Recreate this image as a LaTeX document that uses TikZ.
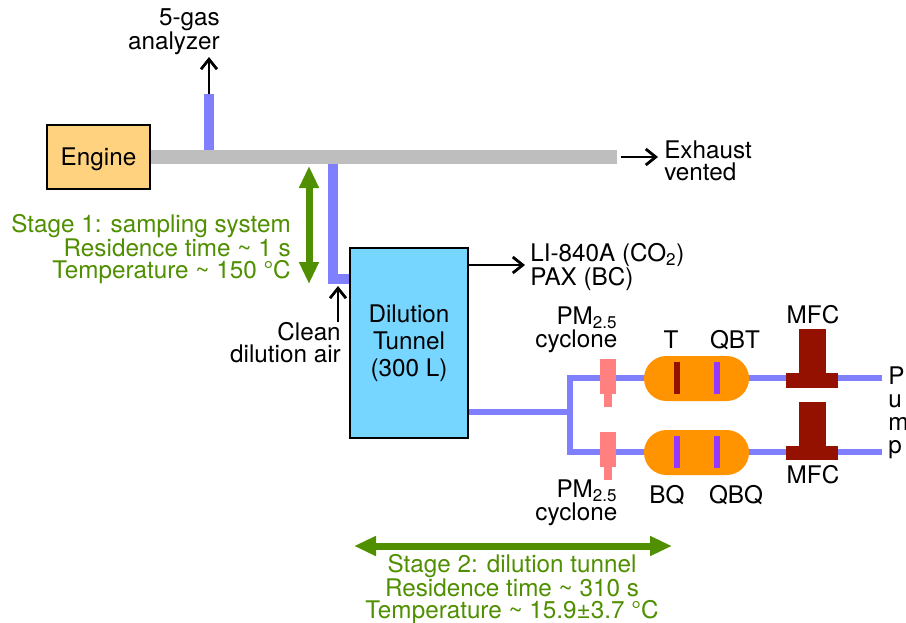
\documentclass[tikz,border=0pt]{standalone}
\usepackage{fontspec}
\setmainfont{TeX Gyre Heros}
\usepackage{xcolor}
\usetikzlibrary{arrows.meta,positioning}
\definecolor{pipeblue}{HTML}{8080FF}
\definecolor{ductgray}{HTML}{BEBEBE}
\definecolor{stagegreen}{HTML}{4F8F00}
\definecolor{enginefill}{HTML}{FFD27F}
\definecolor{tunnelfill}{HTML}{76D6FF}
\definecolor{cycfill}{HTML}{FF8080}
\definecolor{filtfill}{HTML}{FF9300}
\definecolor{darkred}{HTML}{941100}
\definecolor{filtpurple}{HTML}{9437FF}
\begin{document}
\begin{tikzpicture}[
  x=0.75pt, y=-0.75pt,
  lbl/.style={font=\fontsize{18.2}{16.5}\selectfont, inner sep=0pt},
  lblr/.style={lbl, align=right, anchor=east},
  lbll/.style={lbl, align=left, anchor=west},
  stage/.style={lbl, text=stagegreen},
  box/.style={draw=black, line width=1pt, align=center, inner sep=0pt,
              font=\fontsize{18.2}{20.25}\selectfont},
  duct/.style={draw=ductgray, line width=10.5pt},
  pipe/.style={draw=pipeblue, line width=7.5pt},
  line/.style={draw=pipeblue, line width=4.5pt},
  arr/.style={-{Straight Barb[length=7.5pt,width=12pt]}, line width=2.1pt},
  stagearr/.style={{Triangle[length=16.5pt,width=14pt]}-{Triangle[length=16.5pt,width=14pt]},
                   draw=stagegreen, line width=5.25pt},
  cyc/.style={fill=cycfill, inner sep=0pt, outer sep=0pt, minimum width=12pt, minimum height=26.25pt},
  cyctip/.style={fill=cycfill, inner sep=0pt, outer sep=0pt, minimum width=6pt, minimum height=9.5pt},
  filt/.style={fill=filtfill, inner sep=0pt, minimum width=78.75pt, minimum height=33.75pt,
               rounded corners=16.8pt},
  bar/.style={inner sep=0pt, minimum width=4.5pt, minimum height=24pt},
  mfcstem/.style={fill=darkred, inner sep=0pt, outer sep=0pt, minimum width=20.25pt, minimum height=33pt},
  mfcbase/.style={fill=darkred, inner sep=0pt, outer sep=0pt, minimum width=39pt, minimum height=11pt}
]
\useasboundingbox (0,0) rectangle (906,622);

\node[box, fill=enginefill, minimum width=77.25pt, minimum height=48pt, text height=16pt, text depth=3.5pt] (engine) at (98.5,157) {Engine};
\node[box, fill=tunnelfill, minimum width=88.5pt, minimum height=142.5pt] (tunnel) at (409,343) {Dilution\\Tunnel\\(300 L)};

\node[lblr] (analyzer) at (220,32) {5-gas\\analyzer};
\node[lbll] (exhaust) at (664,161) {Exhaust\\vented};
\node[lbll] (lipax) at (530,267) {LI-840A (CO\textsubscript{2})\\PAX (BC)};
\node[lblr] (clean) at (341,343) {Clean\\dilution air};
\node[lbl, align=left, anchor=west, font=\fontsize{18.2}{17.25}\selectfont] (pump) at (888,413) {P\\u\\m\\p};

\coordinate (gastee) at (209,157);
\coordinate (gastop) at (209,94);
\coordinate (dilutee) at (333,157);
\coordinate (dilucorner) at (333,279);
\coordinate (ductend) at (617,157);
\coordinate (split) at (570,411.5);

\coordinate (cycup) at (608,378);
\coordinate (cyclo) at (608,452);

\coordinate (pumpup) at (882,378);
\coordinate (pumplo) at (882,452);

\draw[pipe] (gastee) -- (gastop);
\draw[pipe] (dilutee) -- (dilucorner) -- (tunnel.west |- dilucorner);
\draw[duct] (engine.east) -- (ductend);
\draw[line] (tunnel.east |- split) -- (split);
\draw[line] (split |- cycup) -- (split |- cyclo);
\draw[line] ([xshift=-2.25pt]split |- cycup) -- (pumpup);
\draw[line] ([xshift=-2.25pt]split |- cyclo) -- (pumplo);

\node[cyc] (cycupbody) at (608,376.5) {};
\node[cyctip, below=0pt of cycupbody] (cycuptip) {};
\node[cyc] (cyclobody) at (608,449.5) {};
\node[cyctip, below=0pt of cyclobody] (cyclotip) {};

\node[filt] (filtup) at (696.5,378.5) {};
\node[filt] (filtlo) at (696.5,452.5) {};
\node[bar, fill=darkred] (barT) at (677,378) {};
\node[bar, fill=filtpurple] (barQBT) at (716.5,378) {};
\node[bar, fill=filtpurple] (barBQ) at (677,452) {};
\node[bar, fill=filtpurple] (barQBQ) at (716.5,452) {};

\node[mfcbase] (mfcupbase) at (812,380.5) {};
\node[mfcstem, above=0pt of mfcupbase] (mfcupstem) {};
\node[mfcbase] (mfclobase) at (812,453) {};
\node[mfcstem, above=0pt of mfclobase] (mfclostem) {};

\node[lblr] (pmup) at (617.5,330) {PM\textsubscript{2.5}\\cyclone};
\node[lblr] (pmlo) at (617.5,503) {PM\textsubscript{2.5}\\cyclone};
\node[lbl] (labT) at (671,340) {T};
\node[lbl] (labQBT) at (735,340) {QBT};
\node[lbl] (labBQ) at (667,495) {BQ};
\node[lbl] (labQBQ) at (736,495) {QBQ};
\node[lbl] (labmfcup) at (813,315) {MFC};
\node[lbl] (labmfclo) at (813,475) {MFC};

\node[stage, align=right, anchor=east] (stageone) at (291,249) {Stage 1: sampling system\\Residence time \textasciitilde{} 1 s\\Temperature \textasciitilde{} 150 °C};
\node[stage, align=center] (stagetwo) at (512,589) {Stage 2: dilution tunnel\\Residence time \textasciitilde{} 310 s\\Temperature \textasciitilde{} 15.9±3.7 °C};

\coordinate (stageonetop) at (309,166);
\coordinate (stageonebot) at (309,284);
\coordinate (stagetwol) at (354,546);
\coordinate (stagetwor) at (672,546);
\draw[stagearr] (stageonetop) -- (stageonebot);
\draw[stagearr] (stagetwol) -- (stagetwor);

\coordinate (gasend) at (209,57);
\coordinate (ventstart) at (621,157);
\coordinate (ventend) at (658,157);
\coordinate (lipend) at (525,265);
\coordinate (cleanstart) at (338,322);
\coordinate (cleanend) at (338,286);
\draw[arr] (gastop) -- (gasend);
\draw[arr] (ventstart) -- (ventend);
\draw[arr] (tunnel.east |- lipend) -- (lipend);
\draw[arr] (cleanstart) -- (cleanend);
\end{tikzpicture}
\end{document}
